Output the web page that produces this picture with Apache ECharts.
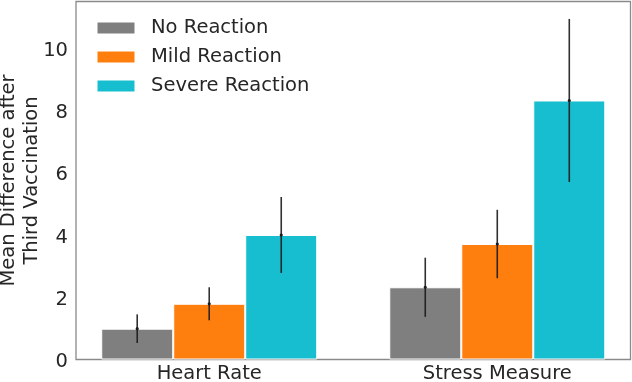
<!DOCTYPE html>
<html>
<head>
<meta charset="utf-8">
<script src="https://cdn.jsdelivr.net/npm/echarts@6/dist/echarts.min.js"></script>
<style>
  html, body { margin: 0; padding: 0; background: #fff; }
  #chart { width: 632px; height: 382px; }
</style>
</head>
<body>
<div id="chart"></div>
<script>
// 数据
const categories = ["Heart Rate", "Stress Measure"];
const seriesNames = ["No Reaction", "Mild Reaction", "Severe Reaction"];
const noReaction = [0.99, 2.32];
const mildReaction = [1.79, 3.71];
const severeReaction = [4.0, 8.32];
const noReactionErr = [0.46, 0.95];
const mildReactionErr = [0.53, 1.1];
const severeReactionErr = [1.22, 2.62];
const yTicks = [0, 2, 4, 6, 8, 10];

const values = [noReaction, mildReaction, severeReaction];
const errors = [noReactionErr, mildReactionErr, severeReactionErr];
const colors = ["#7f7f7f", "#ff7f0e", "#17becf"];

// 布局
const barUnit = 0.25;
const font = "DejaVu Sans";
const textColor = "#262626";

let myChart = echarts.init(document.getElementById("chart"));

let seriesConfig = [];
values.forEach((vals, s) => {
  seriesConfig.push({
    name: seriesNames[s],
    type: "bar",
    barWidth: 72,
    barGap: "0%",
    itemStyle: { color: colors[s], borderColor: "#fff", borderWidth: 1 },
    data: vals.map((v, i) => [i, v]),
  });
});

// 误差线
let errData = [];
values.forEach((vals, s) => {
  vals.forEach((v, i) => {
    errData.push([i + (s - 1) * barUnit, v, v - errors[s][i], v + errors[s][i]]);
  });
});

seriesConfig.push({
  name: "errors",
  type: "custom",
  z: 10,
  silent: true,
  encode: { x: 0, y: 1 },
  data: errData,
  renderItem: (params, api) => {
    const x = api.value(0);
    const mid = api.coord([x, api.value(1)]);
    const lo = api.coord([x, api.value(2)]);
    const hi = api.coord([x, api.value(3)]);
    return {
      type: "group",
      children: [
        {
          type: "line",
          shape: { x1: lo[0], y1: lo[1], x2: hi[0], y2: hi[1] },
          style: { stroke: "#1a1a1a", lineWidth: 1.6, opacity: 0.9 },
        },
        {
          type: "circle",
          shape: { cx: mid[0], cy: mid[1], r: 1.6 },
          style: { fill: "#1a1a1a" },
        },
      ],
    };
  },
});

let option = {
  animation: false,
  grid: {
    left: 76,
    right: 1.5,
    top: 1.5,
    bottom: 22.5,
    containLabel: false,
    outerBoundsMode: "none",
    show: true,
    borderColor: "#8a8a8a",
    borderWidth: 1.3,
    backgroundColor: "#fff",
  },
  legend: {
    data: seriesNames,
    orient: "vertical",
    left: 95.5,
    top: 18,
    padding: 0,
    itemWidth: 39,
    itemHeight: 13,
    itemGap: 9,
    icon: "rect",
    textStyle: {
      fontFamily: font,
      fontSize: 19.5,
      color: textColor,
      lineHeight: 20,
      padding: [0, 0, 0, 10.5],
    },
  },
  xAxis: {
    type: "value",
    min: -0.4625,
    max: 1.4625,
    axisLine: { show: false },
    axisTick: { show: false },
    splitLine: { show: false },
    axisLabel: {
      customValues: [0, 1],
      formatter: (v) => categories[Math.round(v)] || "",
      fontFamily: font,
      fontSize: 19.5,
      color: textColor,
      margin: 4,
    },
  },
  yAxis: {
    type: "value",
    min: 0,
    max: 11.5,
    interval: 2,
    name: "Mean Difference after\nThird Vaccination",
    nameLocation: "middle",
    nameRotate: 90,
    nameGap: 33,
    nameMoveOverlap: false,
    nameTextStyle: {
      fontFamily: font,
      fontSize: 19.5,
      color: textColor,
      lineHeight: 23,
      align: "center",
    },
    axisLine: { show: false },
    axisTick: { show: false },
    splitLine: { show: false },
    axisLabel: {
      showMaxLabel: false,
      formatter: (v) => (yTicks.includes(v) ? String(v) : ""),
      fontFamily: font,
      fontSize: 19.5,
      color: textColor,
      margin: 8,
      verticalAlign: "top",
      lineHeight: 5,
    },
  },
  series: seriesConfig,
};

option && myChart.setOption(option);
</script>
</body>
</html>
